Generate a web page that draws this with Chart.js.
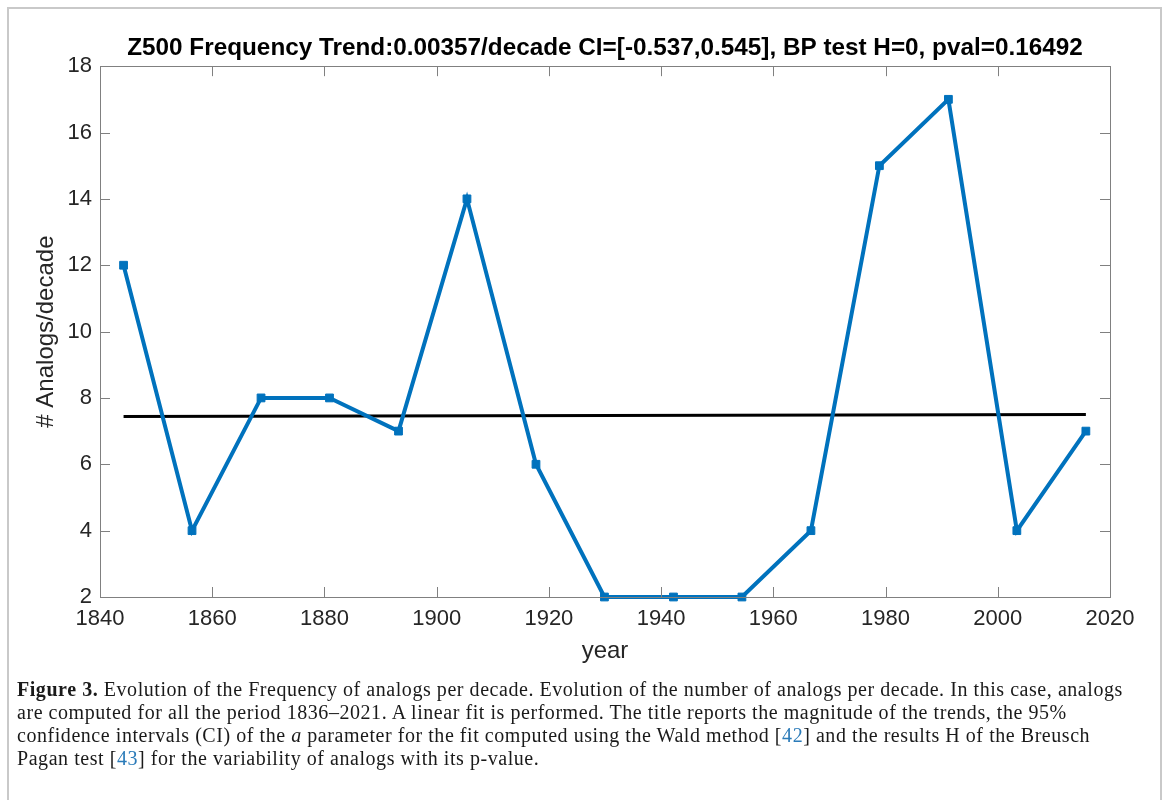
<!DOCTYPE html>
<html>
<head>
<meta charset="utf-8">
<script src="https://cdn.jsdelivr.net/npm/chart.js@4.4.1/dist/chart.umd.min.js"></script>
<style>
  html, body { margin: 0; padding: 0; background: #ffffff; }
  body { width: 1171px; height: 800px; position: relative; overflow: hidden; }
  #frame { position: absolute; left: 7px; top: 7px; width: 1155px; height: 900px; border: 2px solid #c9c9c9; border-bottom: none; box-sizing: border-box; }
  #wrap { position: absolute; left: 0; top: 0; width: 1171px; height: 680px; }
  #caption { position: absolute; left: 17px; top: 678px; width: 1145px; font-family: "Liberation Serif", "DejaVu Serif", serif; font-size: 20px; letter-spacing: 0.55px; line-height: 23px; color: #1a1a1a; white-space: nowrap; }
  #caption .ref { color: #2b7bb9; }
</style>
</head>
<body>
<div id="frame"></div>
<div id="wrap"><canvas id="c"></canvas></div>
<div id="caption"><b>Figure 3.</b> Evolution of the Frequency of analogs per decade. Evolution of the number of analogs per decade. In this case, analogs<br>are computed for all the period 1836–2021. A linear fit is performed. The title reports the magnitude of the trends, the 95%<br>confidence intervals (CI) of the <i>a</i> parameter for the fit computed using the Wald method [<span class="ref">42</span>] and the results H of the Breusch<br>Pagan test [<span class="ref">43</span>] for the variability of analogs with its p-value.</div>
<script>
// ---- data ----
const years = [1844.2, 1856.4, 1868.7, 1880.9, 1893.2, 1905.4, 1917.7, 1929.9, 1942.2, 1954.4, 1966.7, 1978.9, 1991.2, 2003.4, 2015.7];
const analogs = [12, 4, 8, 8, 7, 14, 6, 2, 2, 2, 4, 15, 17, 4, 7];
const trendYears = [1844.2, 2015.7];
const trendValues = [7.44, 7.50];
const xTickValues = [1840, 1860, 1880, 1900, 1920, 1940, 1960, 1980, 2000, 2020];
const yTickValues = [2, 4, 6, 8, 10, 12, 14, 16, 18];
const titleText = 'Z500 Frequency Trend:0.00357/decade CI=[-0.537,0.545], BP test H=0, pval=0.16492';
const xTitle = 'year';
const yTitle = '# Analogs/decade';

const FONT = '"Liberation Sans", Arial, Helvetica, sans-serif';
const AXIS_GRAY = '#808080';
const TEXT = '#262626';

const boxTicks = {
  id: 'boxTicks',
  afterDatasetsDraw(chart) {
    const {ctx, chartArea: a, scales: {x, y}} = chart;
    ctx.save();
    ctx.strokeStyle = AXIS_GRAY;
    ctx.lineWidth = 1;
    ctx.beginPath();
    const L = 10;
    xTickValues.forEach(v => {
      const px = Math.round(x.getPixelForValue(v)) + 0.5;
      ctx.moveTo(px, a.bottom); ctx.lineTo(px, a.bottom - L);
      ctx.moveTo(px, a.top); ctx.lineTo(px, a.top + L);
    });
    yTickValues.forEach(v => {
      const py = Math.round(y.getPixelForValue(v)) + 0.5;
      ctx.moveTo(a.left, py); ctx.lineTo(a.left + L, py);
      ctx.moveTo(a.right, py); ctx.lineTo(a.right - L, py);
    });
    ctx.stroke();
    ctx.strokeRect(Math.round(a.left) + 0.5, Math.round(a.top) + 0.5, Math.round(a.right - a.left), Math.round(a.bottom - a.top));
    ctx.restore();
  }
};

new Chart(document.getElementById('c'), {
  type: 'line',
  data: {
    datasets: [
      {
        label: 'analogs',
        data: years.map((yr, i) => ({x: yr, y: analogs[i]})),
        borderColor: '#0072BD',
        backgroundColor: '#0072BD',
        borderWidth: 4,
        pointStyle: 'rect',
        pointRadius: 5.5,
        pointBorderWidth: 1,
        tension: 0,
        clip: false,
        order: 1
      },
      {
        label: 'trend',
        data: trendYears.map((yr, i) => ({x: yr, y: trendValues[i]})),
        borderColor: '#000000',
        borderWidth: 3,
        pointRadius: 0,
        tension: 0,
        order: 2
      }
    ]
  },
  options: {
    responsive: true,
    maintainAspectRatio: false,
    animation: false,
    layout: { padding: { left: 0, right: 61, top: 0, bottom: 0 } },
    plugins: {
      legend: { display: false },
      tooltip: { enabled: false },
      title: {
        display: true,
        fullSize: false,
        text: titleText,
        color: '#000000',
        font: { family: FONT, size: 24.3, weight: 'bold' },
        padding: { top: 33.5, bottom: 3.5 }
      }
    },
    scales: {
      x: {
        type: 'linear',
        min: 1840, max: 2020,
        afterBuildTicks: s => { s.ticks = xTickValues.map(v => ({value: v})); },
        ticks: { color: TEXT, font: { family: FONT, size: 22 }, padding: 9, maxRotation: 0, autoSkip: false, callback: v => String(v) },
        grid: { display: false, drawTicks: false },
        border: { display: false },
        title: { display: true, text: xTitle, color: TEXT, font: { family: FONT, size: 24 }, padding: { top: 0, bottom: 14.5 } },
        afterFit: s => { s.height = 83; }
      },
      y: {
        type: 'linear',
        min: 2, max: 18,
        afterBuildTicks: s => { s.ticks = yTickValues.map(v => ({value: v})); },
        ticks: { color: TEXT, font: { family: FONT, size: 22 }, padding: 8, autoSkip: false, callback: v => String(v) },
        grid: { display: false, drawTicks: false },
        border: { display: false },
        title: { display: true, text: yTitle, color: TEXT, font: { family: FONT, size: 24 }, padding: { top: 31.5, bottom: 0 } },
        afterFit: s => { s.width = 100; }
      }
    }
  },
  plugins: [boxTicks]
});
</script>
</body>
</html>
